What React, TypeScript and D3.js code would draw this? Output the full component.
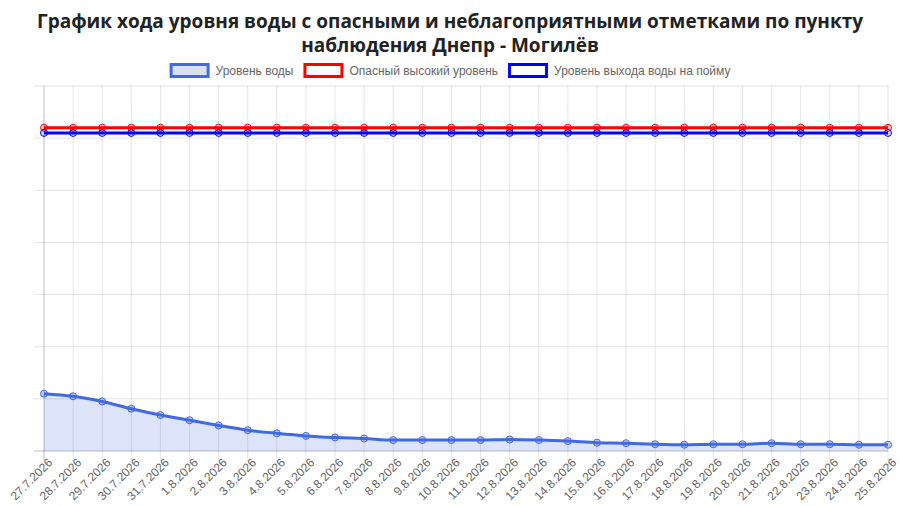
import React from "react";
import * as d3 from "d3";

const titleLines = [
  "График хода уровня воды с опасными и неблагоприятными отметками по пункту",
  "наблюдения Днепр - Могилёв",
];

const dates = [
  "27.7.2026", "28.7.2026", "29.7.2026", "30.7.2026", "31.7.2026",
  "1.8.2026", "2.8.2026", "3.8.2026", "4.8.2026", "5.8.2026",
  "6.8.2026", "7.8.2026", "8.8.2026", "9.8.2026", "10.8.2026",
  "11.8.2026", "12.8.2026", "13.8.2026", "14.8.2026", "15.8.2026",
  "16.8.2026", "17.8.2026", "18.8.2026", "19.8.2026", "20.8.2026",
  "21.8.2026", "22.8.2026", "23.8.2026", "24.8.2026", "25.8.2026",
];

const waterLevel = [
  110, 105, 95, 81, 69, 59, 49, 40, 34, 29,
  26, 24, 21, 21, 21, 21, 22, 21, 19, 16,
  15, 13, 12, 13, 13, 15, 13, 13, 12, 12,
];

const dangerLevel = 620;
const floodplainLevel = 610;

const yTicks = [0, 100, 200, 300, 400, 500, 600, 700];

const legendItems = [
  { label: "Уровень воды", stroke: "#4169e1", fill: "rgba(65,105,225,0.2)" },
  { label: "Опасный высокий уровень", stroke: "#ff0000", fill: "#ffffff" },
  { label: "Уровень выхода воды на пойму", stroke: "#0000ff", fill: "#ffffff" },
];

const font = "'Liberation Sans', Arial, Helvetica, sans-serif";

function measureText(s: string, size: number): number {
  try {
    const c = document.createElement("canvas").getContext("2d");
    if (c) {
      c.font = `${size}px 'Liberation Sans', Arial, sans-serif`;
      return c.measureText(s).width;
    }
  } catch (e) {
    /* ignore */
  }
  return s.length * size * 0.55;
}

export default function App() {
  const W = 900;
  const H = 506;
  const left = 44;
  const right = 888;
  const top = 86;
  const bottom = 451;

  const x = d3
    .scalePoint<string>()
    .domain(dates)
    .range([left, right]);
  const y = d3.scaleLinear().domain([0, 700]).range([bottom, top]);

  const line = d3
    .line<number>()
    .x((_, i) => x(dates[i]) as number)
    .y((d) => y(d))
    .curve(d3.curveMonotoneX);
  const area = d3
    .area<number>()
    .x((_, i) => x(dates[i]) as number)
    .y0(y(0))
    .y1((d) => y(d))
    .curve(d3.curveMonotoneX);

  // legend layout (Chart.js style: box 40x12, 10px padding)
  const legendFont = 12;
  const boxW = 40;
  const boxH = 12;
  const legendY = 63;
  const widths = legendItems.map((it) => boxW + 6 + measureText(it.label, legendFont));
  const totalW = widths.reduce((a, b) => a + b, 0) + 10 * (legendItems.length - 1);
  let cursor = W / 2 - totalW / 2;
  const legendPos = widths.map((w) => {
    const p = cursor;
    cursor += w + 10;
    return p;
  });

  const dangerSeries = dates.map(() => dangerLevel);
  const floodSeries = dates.map(() => floodplainLevel);

  return (
    <svg
      width={W}
      height={H}
      style={{ position: "absolute", left: 0, top: 0, background: "#fff" }}
    >
      {/* title */}
      {titleLines.map((t, i) => (
        <text
          key={i}
          x={W / 2}
          y={28 + i * 24}
          textAnchor="middle"
          fontFamily="'Open Sans', sans-serif"
          fontWeight={700}
          fontSize={19}
          fill="#222"
        >
          {t}
        </text>
      ))}

      {/* legend */}
      {legendItems.map((it, i) => (
        <g key={i} transform={`translate(${legendPos[i]},${legendY})`}>
          <rect
            x={1.5}
            y={1.5}
            width={boxW - 3}
            height={boxH}
            fill={it.fill}
            stroke={it.stroke}
            strokeWidth={3}
          />
          <text
            x={boxW + 6}
            y={boxH}
            fontFamily={font}
            fontSize={legendFont}
            fill="#666"
          >
            {it.label}
          </text>
        </g>
      ))}

      {/* horizontal grid + left ticks */}
      {yTicks.map((t) => (
        <line
          key={t}
          x1={left - 10}
          x2={right}
          y1={y(t)}
          y2={y(t)}
          stroke={t === 0 ? "rgba(0,0,0,0.25)" : "rgba(0,0,0,0.1)"}
          strokeWidth={1}
        />
      ))}

      {/* vertical grid + bottom ticks */}
      {dates.map((d, i) => (
        <line
          key={d}
          x1={x(d) as number}
          x2={x(d) as number}
          y1={top}
          y2={bottom + 10}
          stroke={i === 0 ? "rgba(0,0,0,0.25)" : "rgba(0,0,0,0.1)"}
          strokeWidth={1}
        />
      ))}

      {/* x labels */}
      {dates.map((d) => (
        <text
          key={d}
          transform={`translate(${(x(d) as number) + 3},${bottom + 6}) rotate(-45)`}
          textAnchor="end"
          dominantBaseline="hanging"
          fontFamily={font}
          fontSize={12}
          fill="#666"
        >
          {d}
        </text>
      ))}

      {/* water level area + line */}
      <path d={area(waterLevel) as string} fill="rgba(65,105,225,0.18)" />
      <path
        d={line(waterLevel) as string}
        fill="none"
        stroke="#4169e1"
        strokeWidth={3}
      />
      {waterLevel.map((v, i) => (
        <circle
          key={i}
          cx={x(dates[i]) as number}
          cy={y(v)}
          r={3.5}
          fill="rgba(65,105,225,0.3)"
          stroke="#4169e1"
          strokeWidth={1}
        />
      ))}

      {/* danger level */}
      <path
        d={line(dangerSeries) as string}
        fill="none"
        stroke="#ff0000"
        strokeWidth={3}
      />
      {dangerSeries.map((v, i) => (
        <circle
          key={i}
          cx={x(dates[i]) as number}
          cy={y(v)}
          r={3.5}
          fill="rgba(255,0,0,0.15)"
          stroke="#ff0000"
          strokeWidth={1}
        />
      ))}

      {/* floodplain level */}
      <path
        d={line(floodSeries) as string}
        fill="none"
        stroke="#0000ff"
        strokeWidth={3}
      />
      {floodSeries.map((v, i) => (
        <circle
          key={i}
          cx={x(dates[i]) as number}
          cy={y(v)}
          r={3.5}
          fill="rgba(0,0,255,0.15)"
          stroke="#0000ff"
          strokeWidth={1}
        />
      ))}
    </svg>
  );
}
